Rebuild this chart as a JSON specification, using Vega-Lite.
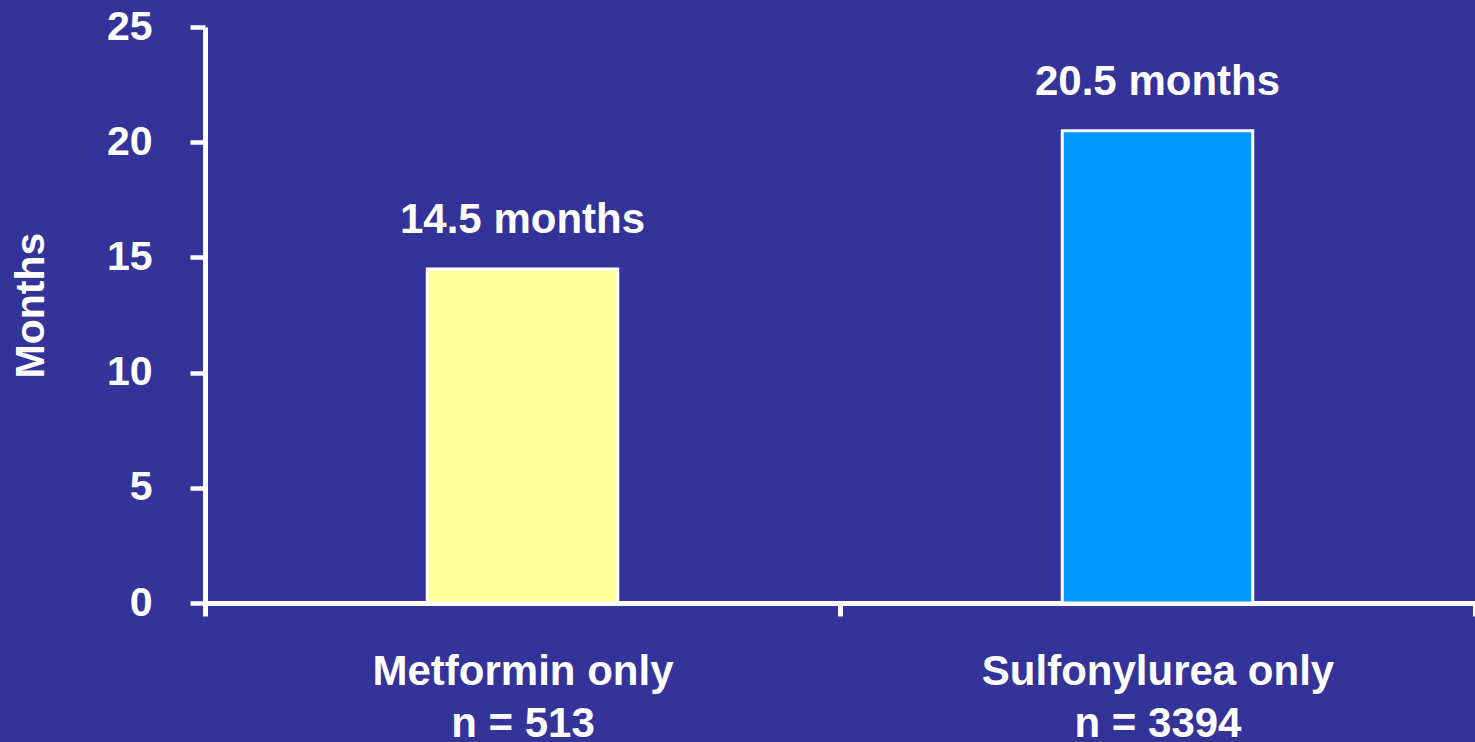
{
  "$schema": "https://vega.github.io/schema/vega-lite/v6.json",
  "width": 1270,
  "height": 576,
  "autosize": "none",
  "padding": {"left": 205, "top": 27, "right": 0, "bottom": 139},
  "background": "#333399",
  "config": {
    "view": {"stroke": null},
    "font": "Liberation Sans"
  },
  "data": {
    "values": [
      {"group": "Metformin only|n = 513", "months": 14.5, "label": "14.5 months"},
      {"group": "Sulfonylurea only|n = 3394", "months": 20.5, "label": "20.5 months"}
    ]
  },
  "encoding": {
    "x": {
      "field": "group",
      "type": "nominal",
      "sort": null,
      "scale": {"paddingInner": 0, "paddingOuter": 0},
      "axis": {
        "title": null,
        "labelAngle": 0,
        "labelExpr": "split(datum.label, '|')",
        "labelLineHeight": 52,
        "labelFont": "Liberation Sans",
        "labelFontSize": 42,
        "labelFontWeight": "bold",
        "labelColor": "white",
        "labelBaseline": "top",
        "labelPadding": 35,
        "labelLimit": 1000,
        "tickBand": "extent",
        "tickSize": 13,
        "tickWidth": 5,
        "tickColor": "white",
        "domainColor": "white",
        "domainWidth": 5
      }
    }
  },
  "layer": [
    {
      "mark": {"type": "bar", "stroke": "white", "strokeWidth": 3, "width": {"band": 0.3}},
      "encoding": {
        "y": {
          "field": "months",
          "type": "quantitative",
          "scale": {"domain": [0, 25], "nice": false},
          "axis": {
            "title": "Months",
            "values": [0, 5, 10, 15, 20, 25],
            "grid": false,
            "domainColor": "white",
            "domainWidth": 5,
            "tickColor": "white",
            "tickWidth": 4.5,
            "tickSize": 15,
            "labelColor": "white",
            "labelFont": "Liberation Sans",
            "labelFontSize": 41,
            "labelFontWeight": "bold",
            "labelPadding": 38,
            "titleColor": "white",
            "titleFont": "Liberation Sans",
            "titleFontSize": 41,
            "titleFontWeight": "bold",
            "titleAngle": -90,
            "titleAlign": "center",
            "titleBaseline": "middle",
            "titleX": -174,
            "titleY": 278
          }
        },
        "color": {
          "field": "group",
          "type": "nominal",
          "sort": null,
          "scale": {"range": ["#FFFF99", "#0099FF"]},
          "legend": null
        }
      }
    },
    {
      "mark": {
        "type": "text",
        "baseline": "alphabetic",
        "dy": -36,
        "font": "Liberation Sans",
        "fontSize": 42,
        "fontWeight": "bold",
        "color": "white"
      },
      "encoding": {
        "y": {"field": "months", "type": "quantitative"},
        "text": {"field": "label"}
      }
    }
  ]
}
